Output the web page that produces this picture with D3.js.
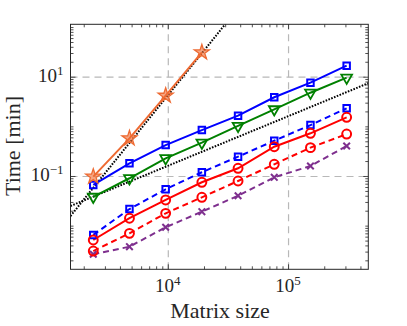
<!DOCTYPE html>
<html>
<head>
<meta charset="utf-8">
<script src="https://cdn.jsdelivr.net/npm/d3@7"></script>
<style>
  body { margin: 0; background: #fff; }
  text { font-family: "Liberation Serif", "Times New Roman", serif; fill: #262626; }
</style>
</head>
<body>
<div id="chart"></div>
<script>
// matrix sizes (x) and run times in minutes (y)
var matrixSize = [2400, 4800, 9600, 19200, 38400, 76800, 153600, 307200];

var starTimes = [0.097, 0.574, 4.14, 30.9];
var blueSolid = [0.066, 0.180, 0.42, 0.84, 1.64, 3.85, 7.57, 16.7];
var greenSolid = [0.038, 0.090, 0.227, 0.469, 1.02, 2.2, 4.76, 9.55];
var blueDashed = [0.0065, 0.0216, 0.054, 0.119, 0.245, 0.514, 1.06, 2.31];
var redSolid = [0.00514, 0.0141, 0.0329, 0.0747, 0.143, 0.389, 0.724, 1.52];
var redDashed = [0.00308, 0.0070, 0.0177, 0.0372, 0.0793, 0.172, 0.372, 0.70];
var purpleDashed = [0.00265, 0.00377, 0.00927, 0.0191, 0.040, 0.094, 0.159, 0.402];

// dotted reference lines (end points)
var refSteepX = [1552, 30000];
var refSteepY = [0.0156, 113.6];
var refShallowX = [1552, 465000];
var refShallowY = [0.0249, 7.4];

var xMajor = [1e4, 1e5];
var yMajor = [1e-1, 1e1];

(function() {
  var width = 407,
      height = 326;
  var margin = {top: 24.3, right: 38.7, bottom: 56.7, left: 70.5};
  var w = width - margin.left - margin.right,
      h = height - margin.top - margin.bottom;

  var svg = d3.select("#chart")
    .append("svg")
    .attr("width", width)
    .attr("height", height);

  var g = svg.append("g")
    .attr("transform", "translate(" + margin.left + "," + margin.top + ")");

  var x = d3.scaleLog().domain([1552, 465000]).range([0, w]);
  var y = d3.scaleLog().domain([0.00132, 113.6]).range([h, 0]);

  // minor tick values for every decade
  var xMinor = [], yMinor = [];
  for (var e = 3; e <= 5; e++) {
    for (var k = 1; k <= 9; k++) {
      var v = k * Math.pow(10, e);
      if (v >= 1552 && v <= 465000 && xMajor.indexOf(v) < 0) xMinor.push(v);
    }
  }
  for (var e2 = -3; e2 <= 2; e2++) {
    for (var k2 = 1; k2 <= 9; k2++) {
      var v2 = k2 * Math.pow(10, e2);
      var isMajor = yMajor.some(function(m) { return Math.abs(m - v2) / m < 1e-9; });
      if (v2 >= 0.00132 && v2 <= 113.6 && !isMajor) yMinor.push(v2);
    }
  }

  // grid
  g.append("g")
    .attr("class", "grid")
    .attr("transform", "translate(0," + h + ")")
    .call(d3.axisBottom(x).tickValues(xMajor).tickSize(-h).tickFormat(""));
  g.append("g")
    .attr("class", "grid")
    .call(d3.axisLeft(y).tickValues(yMajor).tickSize(-w).tickFormat(""));
  g.selectAll(".grid .domain").remove();
  g.selectAll(".grid line")
    .attr("stroke", "#b8b8b8")
    .attr("stroke-width", 1.2)
    .attr("stroke-dasharray", "7,5");

  // clip for the lines
  g.append("clipPath").attr("id", "clip")
    .append("rect").attr("width", w).attr("height", h);

  var plot = g.append("g").attr("clip-path", "url(#clip)");

  var line = d3.line()
    .x(function(d) { return x(d[0]); })
    .y(function(d) { return y(d[1]); });

  function pairs(xs, ys) {
    return ys.map(function(v, i) { return [xs[i], v]; });
  }

  // dotted reference lines
  [[refSteepX, refSteepY], [refShallowX, refShallowY]].forEach(function(r) {
    plot.append("path")
      .attr("d", line(pairs(r[0], r[1])))
      .attr("fill", "none")
      .attr("stroke", "#000")
      .attr("stroke-width", 2)
      .attr("stroke-dasharray", "1.6,1.4");
  });

  var series = [
    {values: purpleDashed, color: "#7E2F8E", dash: "6,4", marker: "x"},
    {values: redDashed, color: "#ff0000", dash: "6,4", marker: "circle"},
    {values: blueDashed, color: "#0000ff", dash: "6,4", marker: "square"},
    {values: redSolid, color: "#ff0000", dash: null, marker: "circle"},
    {values: greenSolid, color: "#008000", dash: null, marker: "triangle"},
    {values: blueSolid, color: "#0000ff", dash: null, marker: "square"},
    {values: starTimes, color: "#EE6A32", dash: null, marker: "star"}
  ];

  var timesSym = d3.symbolTimes || d3.symbolCross;

  series.forEach(function(s) {
    var pts = pairs(matrixSize, s.values);
    plot.append("path")
      .attr("d", line(pts))
      .attr("fill", "none")
      .attr("stroke", s.color)
      .attr("stroke-width", 2)
      .attr("stroke-dasharray", s.dash);

    var marks = g.selectAll(null)
      .data(pts)
      .enter().append("path")
      .attr("fill", "none")
      .attr("stroke", s.color)
      .attr("stroke-width", 2);

    if (s.marker === "square") {
      marks.attr("d", d3.symbol().type(d3.symbolSquare).size(42))
        .attr("transform", function(d) { return "translate(" + x(d[0]) + "," + y(d[1]) + ")"; });
    } else if (s.marker === "circle") {
      marks.attr("d", d3.symbol().type(d3.symbolCircle).size(62))
        .attr("transform", function(d) { return "translate(" + x(d[0]) + "," + y(d[1]) + ")"; });
    } else if (s.marker === "triangle") {
      marks.attr("d", d3.symbol().type(d3.symbolTriangle).size(50))
        .attr("stroke-width", 1.8)
        .attr("transform", function(d) { return "translate(" + x(d[0]) + "," + y(d[1]) + ") rotate(180)"; });
    } else if (s.marker === "x") {
      marks.attr("d", d3.symbol().type(timesSym).size(30))
        .attr("transform", function(d) { return "translate(" + x(d[0]) + "," + y(d[1]) + ")"; });
    } else if (s.marker === "star") {
      marks.attr("d", d3.symbol().type(d3.symbolStar).size(70))
        .attr("fill", s.color)
        .attr("fill-opacity", 0.6)
        .attr("stroke-width", 1.3)
        .attr("transform", function(d) { return "translate(" + x(d[0]) + "," + y(d[1]) + ")"; });
    }
  });

  // ticks pointing inward on all four sides
  function ticks(axis, vals, len, transform) {
    var a = g.append("g").attr("class", "ticks")
      .attr("transform", transform || null)
      .call(axis.tickValues(vals).tickSizeInner(len).tickSizeOuter(0).tickFormat(""));
    a.select(".domain").remove();
    a.selectAll("line").attr("stroke", "#262626").attr("stroke-width", 0.8);
  }
  ticks(d3.axisBottom(x), xMajor, -5, "translate(0," + h + ")");
  ticks(d3.axisBottom(x), xMinor, -3, "translate(0," + h + ")");
  ticks(d3.axisTop(x), xMajor, -5);
  ticks(d3.axisTop(x), xMinor, -3);
  ticks(d3.axisLeft(y), yMajor, -5);
  ticks(d3.axisLeft(y), yMinor, -3);
  ticks(d3.axisRight(y), yMajor, -5, "translate(" + w + ",0)");
  ticks(d3.axisRight(y), yMinor, -3, "translate(" + w + ",0)");

  // box
  g.append("rect")
    .attr("width", w)
    .attr("height", h)
    .attr("fill", "none")
    .attr("stroke", "#262626")
    .attr("stroke-width", 1);

  // tick labels
  xMajor.forEach(function(v) {
    var t = g.append("text")
      .attr("x", x(v))
      .attr("y", h + 22.5)
      .attr("text-anchor", "middle")
      .style("font-size", "19px");
    t.append("tspan").text("10");
    t.append("tspan").attr("dy", -7).style("font-size", "13px").text(Math.round(Math.log10(v)));
  });
  yMajor.forEach(function(v) {
    var ex = Math.round(Math.log10(v));
    var t = g.append("text")
      .attr("x", -7)
      .attr("y", y(v) + 5.5)
      .attr("text-anchor", "end")
      .style("font-size", "19px");
    t.append("tspan").text("10");
    t.append("tspan").attr("dy", -7).style("font-size", "13px").text(ex < 0 ? "\u2212" + (-ex) : ex);
  });

  // axis labels
  svg.append("text")
    .attr("x", 220)
    .attr("y", 318)
    .attr("text-anchor", "middle")
    .style("font-size", "22px")
    .text("Matrix size");

  svg.append("text")
    .attr("transform", "translate(20,146) rotate(-90)")
    .attr("text-anchor", "middle")
    .style("font-size", "22px")
    .text("Time [min]");
})();
</script>
</body>
</html>
